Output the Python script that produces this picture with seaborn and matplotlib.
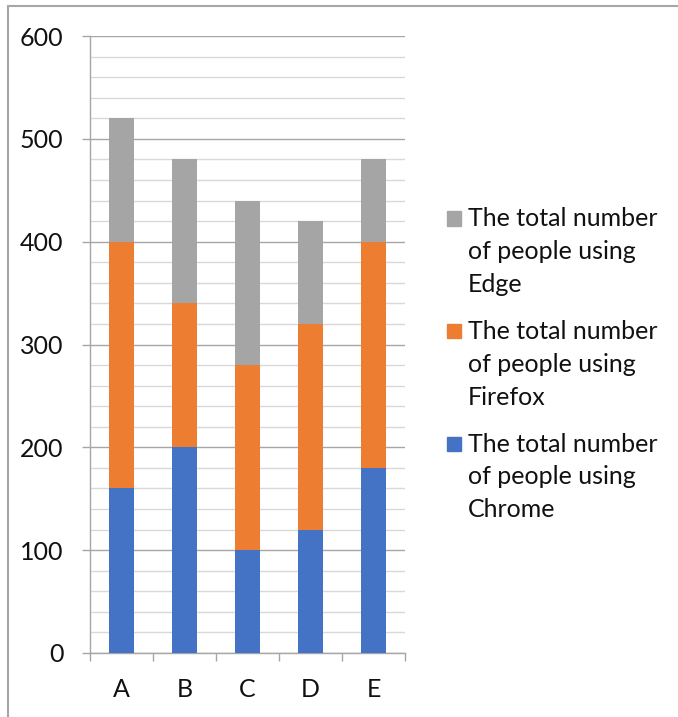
import numpy as np
import pandas as pd
import seaborn as sns
import matplotlib.pyplot as plt
from matplotlib.patches import Rectangle
from matplotlib.lines import Line2D
from matplotlib.ticker import MultipleLocator

# data
groups = ["A", "B", "C", "D", "E"]
chrome = [160, 200, 100, 120, 180]
firefox = [240, 140, 180, 200, 220]
edge = [120, 140, 160, 100, 80]

series_names = [
    "The total number\nof people using\nEdge",
    "The total number\nof people using\nFirefox",
    "The total number\nof people using\nChrome",
]
colors = ["#A5A5A5", "#ED7D31", "#4472C4"]

sns.set_theme(style="white")
plt.rcParams["font.family"] = ["Lato", "DejaVu Sans"]

# cumulative heights, drawn from tallest to shortest so they stack
df = pd.DataFrame({"group": groups})
df["chrome"] = np.array(chrome)
df["firefox"] = df["chrome"] + np.array(firefox)
df["edge"] = df["firefox"] + np.array(edge)

fig = plt.figure(figsize=(6.78, 7.17), dpi=100)
ax = fig.add_axes([90 / 678, 64 / 717, 315 / 678, 617 / 717])

for col, c in zip(["edge", "firefox", "chrome"], colors):
    sns.barplot(data=df, x="group", y=col, color=c, width=0.4,
                saturation=1, edgecolor="none", ax=ax, zorder=3)

ax.set_ylim(0, 600)
ax.set_xlim(-0.5, 4.5)
ax.set_xlabel("")
ax.set_ylabel("")

ax.yaxis.set_major_locator(MultipleLocator(100))
ax.yaxis.set_minor_locator(MultipleLocator(20))
ax.grid(False)
ax.grid(axis="y", which="minor", color="#D9D9D9", lw=1, zorder=0)
ax.grid(axis="y", which="major", color="#A6A6A6", lw=1, zorder=1)

ax.set_xticks(range(5))
ax.set_xticklabels(groups)
ax.set_xticks(np.arange(-0.5, 5, 1), minor=True)
ax.tick_params(axis="x", which="major", length=0, pad=18, labelsize=18, colors="#111111")
ax.tick_params(axis="x", which="minor", length=6, width=1, color="#A6A6A6", direction="out", bottom=True)
ax.tick_params(axis="y", which="major", length=6, width=1, color="#A6A6A6", pad=13,
               labelsize=18, labelcolor="#111111", direction="out", left=True)
ax.tick_params(axis="y", which="minor", length=0)

for s in ["top", "right"]:
    ax.spines[s].set_visible(False)
for s in ["left", "bottom"]:
    ax.spines[s].set_color("#A6A6A6")
    ax.spines[s].set_linewidth(1)

# legend drawn by hand so the swatch sits on the first line
W, H = 678, 717
for i, (name, c) in enumerate(zip(series_names, colors)):
    y0 = 218.5 + i * 112.5
    fig.add_artist(Rectangle((447 / W, 1 - (y0 + 7) / H), 14 / W, 14 / H,
                             transform=fig.transFigure, color=c))
    fig.text(468 / W, 1 - (y0 - 11) / H, name, fontsize=18, va="top",
             ha="left", linespacing=1.52, color="#111111")

# outer chart border (top and left visible)
fig.add_artist(Line2D([8 / W, 1], [1 - 6 / H, 1 - 6 / H], color="#A6A6A6", lw=1.5))
fig.add_artist(Line2D([8 / W, 8 / W], [0, 1 - 6 / H], color="#A6A6A6", lw=1.5))

fig.savefig("out.png", dpi=100)
